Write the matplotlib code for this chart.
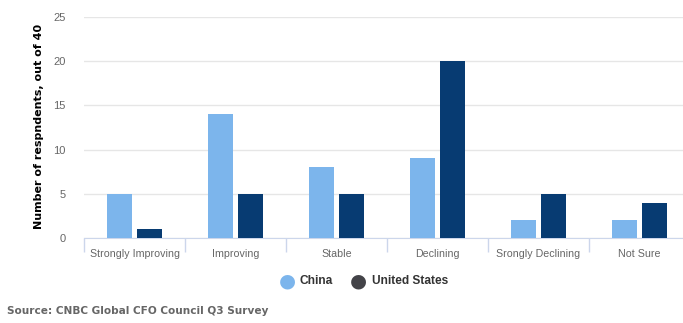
import matplotlib
matplotlib.use("Agg")
import matplotlib.pyplot as plt
import numpy as np

categories = ["Strongly Improving", "Improving", "Stable", "Declining", "Srongly Declining", "Not Sure"]
china = [5, 14, 8, 9, 2, 2]
us = [1, 5, 5, 20, 5, 4]
yticks = [0, 5, 10, 15, 20, 25]

W, H = 683, 323
fig = plt.figure(figsize=(W / 100, H / 100), dpi=100)
left, right, top, bottom = 84, 690, 17, 238
ax = fig.add_axes([left / W, 1 - bottom / H, (right - left) / W, (bottom - top) / H])

x = np.arange(len(categories))
ax.bar(x - 0.15, china, width=0.25, color="#7cb5ec", zorder=3)
ax.bar(x + 0.15, us, width=0.25, color="#073b72", zorder=3)

ax.set_xlim(-0.5, len(categories) - 0.5)
ax.set_ylim(0, 25)
ax.set_yticks(yticks)
ax.set_yticklabels([str(v) for v in yticks], color="#666666", fontsize=8, family="Liberation Sans")
ax.yaxis.grid(True, color="#e6e6e6", linewidth=1, zorder=0)
ax.tick_params(axis="y", length=0, pad=13)
ax.set_xticks(x)
ax.set_xticklabels(categories, color="#666666", fontsize=7.7, family="Liberation Sans")
ax.tick_params(axis="x", length=0, pad=8)
ax.set_xticks(np.arange(len(categories) + 1) - 0.5, minor=True)
ax.tick_params(axis="x", which="minor", length=10, color="#ccd6eb", width=1)
for s in ["top", "right", "left"]:
    ax.spines[s].set_visible(False)
ax.spines["bottom"].set_color("#ccd6eb")
ax.set_axisbelow(True)

fig.text(39 / W, 1 - 126 / H, "Number of respndents, out of 40", rotation=90,
         ha="center", va="center", fontsize=8, fontweight="bold", color="#000000")

# legend
fig.text(287 / W, 1 - 281 / H, "\u25CF", color="#7cb5ec", fontsize=14, ha="center", va="center")
fig.text(300 / W, 1 - 281 / H, "China", color="#333333", fontsize=8.6, fontweight="bold",
         ha="left", va="center", family="Liberation Sans")
fig.text(358 / W, 1 - 281 / H, "\u25CF", color="#434348", fontsize=14, ha="center", va="center")
fig.text(372 / W, 1 - 281 / H, "United States", color="#333333", fontsize=8.6, fontweight="bold",
         ha="left", va="center", family="Liberation Sans")

fig.text(7 / W, 1 - 311 / H, "Source: CNBC Global CFO Council Q3 Survey", color="#666666",
         fontsize=7.6, fontweight="bold", ha="left", va="center")

fig.savefig("out.png", dpi=100)
